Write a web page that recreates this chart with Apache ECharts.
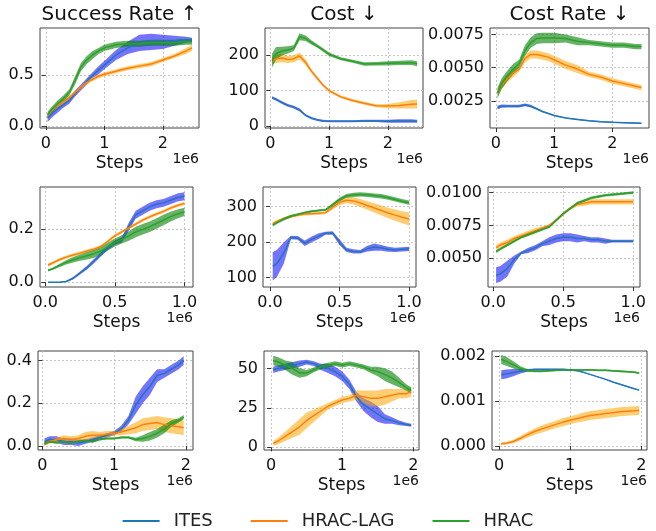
<!DOCTYPE html>
<html>
<head>
<meta charset="utf-8">
<script src="https://cdn.jsdelivr.net/npm/echarts@6/dist/echarts.min.js"></script>
<style>
  body { margin: 0; background: #fff; }
  #main { width: 656px; height: 531px; }
</style>
</head>
<body>
<div id="main"></div>
<script>
// ---- data (x in units of 1e6 steps) ----
const ALGOS = ['ITES', 'HRAC-LAG', 'HRAC'];
const TITLES = ['Success Rate \u2191', 'Cost \u2193', 'Cost Rate \u2193'];

const xRow1 = [0.03, 0.1, 0.2, 0.3, 0.4, 0.5, 0.6, 0.7, 0.8, 0.9, 1.0, 1.2, 1.4, 1.6, 1.8, 2.0, 2.2, 2.4, 2.5];
const xRow2 = [0.02, 0.05, 0.1, 0.15, 0.2, 0.25, 0.3, 0.35, 0.4, 0.45, 0.5, 0.55, 0.6, 0.65, 0.7, 0.75, 0.8, 0.85, 0.9, 0.95, 1.0];
const xRow3 = [0.03, 0.1, 0.2, 0.3, 0.4, 0.5, 0.6, 0.7, 0.8, 0.9, 1.0, 1.1, 1.2, 1.3, 1.4, 1.5, 1.6, 1.7, 1.8, 1.9, 1.97];

// row 1
const srItes = [0.08, 0.12, 0.17, 0.21, 0.25, 0.32, 0.38, 0.44, 0.50, 0.55, 0.60, 0.70, 0.77, 0.82, 0.83, 0.83, 0.84, 0.85, 0.85];
const srItesSd = [0.04, 0.04, 0.04, 0.03, 0.03, 0.03, 0.03, 0.03, 0.03, 0.04, 0.04, 0.05, 0.06, 0.08, 0.08, 0.07, 0.05, 0.03, 0.02];
const srLag = [0.10, 0.15, 0.20, 0.24, 0.28, 0.33, 0.38, 0.43, 0.46, 0.49, 0.51, 0.54, 0.57, 0.59, 0.61, 0.65, 0.69, 0.74, 0.77];
const srLagSd = [0.02, 0.02, 0.02, 0.02, 0.02, 0.02, 0.02, 0.02, 0.02, 0.02, 0.02, 0.02, 0.02, 0.02, 0.02, 0.02, 0.02, 0.03, 0.03];
const srHrac = [0.11, 0.16, 0.22, 0.27, 0.33, 0.45, 0.58, 0.65, 0.70, 0.74, 0.77, 0.80, 0.81, 0.81, 0.82, 0.82, 0.82, 0.83, 0.83];
const srHracSd = [0.03, 0.03, 0.03, 0.03, 0.03, 0.04, 0.04, 0.04, 0.04, 0.03, 0.03, 0.03, 0.03, 0.03, 0.03, 0.03, 0.03, 0.03, 0.03];

const cItes = [80, 75, 66, 58, 53, 45, 30, 22, 17, 14, 13, 13, 13, 14, 14, 13, 14, 14, 13];
const cItesSd = [4, 4, 4, 4, 4, 4, 3, 3, 3, 3, 3, 3, 3, 3, 3, 4, 5, 5, 4];
const cLag = [185, 190, 192, 188, 190, 198, 180, 155, 135, 115, 100, 82, 72, 64, 57, 56, 58, 61, 62];
const cLagSd = [10, 12, 12, 10, 10, 10, 8, 6, 5, 4, 4, 4, 4, 4, 4, 6, 9, 12, 13];
const cHrac = [185, 205, 212, 215, 220, 252, 248, 236, 226, 215, 203, 190, 183, 175, 176, 177, 178, 179, 176];
const cHracSd = [20, 18, 12, 10, 8, 10, 8, 6, 5, 5, 5, 4, 4, 5, 5, 6, 6, 7, 7];

const crItes = [0.0020, 0.0021, 0.0021, 0.0021, 0.0021, 0.0022, 0.0021, 0.0019, 0.0017, 0.00155, 0.0014, 0.0012, 0.0011, 0.0010, 0.00093, 0.00088, 0.00085, 0.00082, 0.0008];
const crItesSd = [0.00015, 0.00012, 0.0001, 0.0001, 0.0001, 0.0001, 0.0001, 0.00008, 0.00006, 0.00005, 0.00005, 0.00004, 0.00004, 0.00004, 0.00004, 0.00004, 0.00004, 0.00004, 0.00004];
const crLag = [0.0031, 0.0037, 0.0042, 0.0046, 0.0049, 0.0057, 0.0060, 0.0060, 0.0059, 0.0058, 0.0056, 0.0052, 0.0049, 0.0045, 0.0043, 0.0040, 0.0038, 0.0036, 0.0035];
const crLagSd = [0.0003, 0.0003, 0.0003, 0.0003, 0.0002, 0.0003, 0.0003, 0.0003, 0.0003, 0.0003, 0.0003, 0.0003, 0.0003, 0.0002, 0.0002, 0.0002, 0.0002, 0.0002, 0.0002];
const crHrac = [0.0031, 0.0038, 0.0044, 0.0049, 0.0053, 0.0063, 0.0069, 0.0072, 0.00725, 0.00725, 0.00725, 0.0072, 0.0070, 0.0069, 0.0068, 0.0067, 0.0067, 0.0066, 0.0066];
const crHracSd = [0.0004, 0.0004, 0.0004, 0.0004, 0.0003, 0.0004, 0.0004, 0.0004, 0.0004, 0.0004, 0.0004, 0.0003, 0.0003, 0.0002, 0.0002, 0.0002, 0.0002, 0.0002, 0.0002];

// row 2
const sr2Ites = [0, 0, 0, 0.003, 0.015, 0.035, 0.055, 0.08, 0.105, 0.13, 0.15, 0.16, 0.21, 0.255, 0.27, 0.285, 0.295, 0.30, 0.31, 0.32, 0.325];
const sr2ItesSd = [0.001, 0.001, 0.001, 0.002, 0.005, 0.006, 0.007, 0.008, 0.008, 0.008, 0.008, 0.01, 0.015, 0.015, 0.015, 0.015, 0.015, 0.015, 0.015, 0.015, 0.015];
const sr2Lag = [0.065, 0.072, 0.085, 0.095, 0.103, 0.11, 0.118, 0.125, 0.135, 0.155, 0.175, 0.19, 0.205, 0.22, 0.235, 0.247, 0.258, 0.268, 0.28, 0.29, 0.298];
const sr2LagSd = [0.006, 0.006, 0.006, 0.006, 0.006, 0.006, 0.006, 0.006, 0.006, 0.006, 0.006, 0.006, 0.006, 0.006, 0.006, 0.006, 0.006, 0.006, 0.006, 0.006, 0.006];
const sr2Hrac = [0.045, 0.05, 0.063, 0.075, 0.085, 0.093, 0.1, 0.108, 0.118, 0.135, 0.15, 0.162, 0.175, 0.19, 0.2, 0.21, 0.222, 0.235, 0.248, 0.258, 0.266];
const sr2HracSd = [0.004, 0.004, 0.006, 0.008, 0.01, 0.012, 0.014, 0.015, 0.015, 0.015, 0.015, 0.016, 0.018, 0.02, 0.02, 0.02, 0.02, 0.02, 0.018, 0.017, 0.016];

const c2Ites = [132, 140, 170, 213, 212, 197, 208, 217, 225, 226, 200, 178, 174, 173, 182, 186, 184, 180, 178, 180, 181];
const c2ItesSd = [40, 38, 30, 5, 5, 8, 8, 8, 4, 5, 8, 6, 6, 5, 8, 10, 8, 7, 6, 6, 6];
const c2Lag = [252, 258, 266, 272, 276, 279, 280, 281, 283, 298, 312, 318, 316, 310, 303, 296, 289, 282, 276, 270, 265];
const c2LagSd = [4, 4, 4, 4, 4, 4, 4, 4, 4, 6, 8, 9, 10, 11, 12, 13, 14, 15, 16, 17, 18];
const c2Hrac = [248, 255, 265, 273, 278, 283, 287, 289, 291, 305, 320, 330, 333, 334, 333, 331, 329, 325, 320, 315, 311];
const c2HracSd = [4, 4, 4, 4, 3, 3, 3, 3, 3, 4, 5, 5, 6, 6, 6, 6, 6, 6, 6, 6, 6];

const cr2Ites = [0.0037, 0.0038, 0.0042, 0.0049, 0.0054, 0.0056, 0.0058, 0.0061, 0.0063, 0.0065, 0.0066, 0.0066, 0.0065, 0.0065, 0.0064, 0.0064, 0.0063, 0.0063, 0.0063, 0.0063, 0.0063];
const cr2ItesSd = [0.0006, 0.0006, 0.0006, 0.0003, 0.0001, 0.0002, 0.0002, 0.0002, 0.0003, 0.0003, 0.0003, 0.0003, 0.0003, 0.0002, 0.0002, 0.0002, 0.0002, 0.0001, 0.0001, 0.0001, 0.0001];
const cr2Lag = [0.0058, 0.0060, 0.0062, 0.0065, 0.0067, 0.0069, 0.0071, 0.0073, 0.0075, 0.0079, 0.0084, 0.0088, 0.0091, 0.0092, 0.0093, 0.0093, 0.0093, 0.0093, 0.0093, 0.0093, 0.0093];
const cr2LagSd = [0.0002, 0.0002, 0.0002, 0.0002, 0.0002, 0.0002, 0.0002, 0.0001, 0.0001, 0.0001, 0.0001, 0.0001, 0.00015, 0.0002, 0.0002, 0.0002, 0.0002, 0.0002, 0.0002, 0.0002, 0.0002];
const cr2Hrac = [0.0055, 0.0057, 0.0060, 0.0063, 0.0066, 0.0068, 0.0070, 0.0072, 0.0074, 0.0079, 0.0084, 0.0088, 0.0092, 0.0094, 0.0096, 0.0097, 0.0098, 0.00985, 0.0099, 0.00995, 0.0100];
const cr2HracSd = [0.0001, 0.0001, 0.0001, 0.0001, 0.0001, 0.0001, 0.0001, 0.0001, 0.0001, 0.0001, 0.0001, 0.0001, 0.0001, 0.0001, 0.0001, 0.0001, 0.0001, 0.0001, 0.0001, 0.0001, 0.0001];

// row 3
const sr3Ites = [0.02, 0.03, 0.03, 0.02, 0.02, 0.015, 0.02, 0.03, 0.04, 0.05, 0.06, 0.08, 0.12, 0.19, 0.24, 0.28, 0.33, 0.34, 0.36, 0.38, 0.40];
const sr3ItesSd = [0.015, 0.015, 0.015, 0.015, 0.015, 0.015, 0.01, 0.01, 0.01, 0.01, 0.01, 0.015, 0.02, 0.04, 0.04, 0.04, 0.03, 0.02, 0.02, 0.02, 0.02];
const sr3Lag = [0.01, 0.02, 0.03, 0.035, 0.03, 0.035, 0.045, 0.05, 0.05, 0.055, 0.06, 0.065, 0.075, 0.085, 0.10, 0.105, 0.11, 0.10, 0.095, 0.09, 0.085];
const sr3LagSd = [0.01, 0.01, 0.01, 0.015, 0.015, 0.015, 0.02, 0.02, 0.015, 0.015, 0.01, 0.015, 0.02, 0.025, 0.03, 0.03, 0.03, 0.035, 0.035, 0.035, 0.035];
const sr3Hrac = [0.01, 0.02, 0.015, 0.02, 0.015, 0.02, 0.025, 0.02, 0.03, 0.035, 0.035, 0.04, 0.04, 0.03, 0.035, 0.045, 0.06, 0.08, 0.105, 0.12, 0.135];
const sr3HracSd = [0.005, 0.005, 0.005, 0.005, 0.005, 0.005, 0.005, 0.005, 0.005, 0.005, 0.005, 0.005, 0.005, 0.008, 0.015, 0.02, 0.02, 0.02, 0.015, 0.01, 0.01];

const c3Ites = [49, 50, 51, 52, 53, 54, 53, 51, 50, 48, 45, 40, 32, 27, 24, 21, 18, 17, 15.5, 14.5, 14];
const c3ItesSd = [2, 2, 2, 2, 2, 1.5, 1.5, 2, 3, 3, 3, 3, 3, 4, 5, 5, 3, 2, 1.5, 1, 1];
const c3Lag = [2.5, 4, 7, 10, 13, 17, 20, 23, 26, 28, 30, 31, 33, 32, 31, 31, 32, 33, 34, 34, 35];
const c3LagSd = [1.5, 2, 3, 4, 5, 5, 4, 3, 2, 2, 2, 2, 3, 4, 5, 5, 5, 4, 3, 3, 3];
const c3Hrac = [55, 54, 52, 50, 47, 47, 49, 51, 52, 53, 52, 53, 52, 51, 49, 48, 46, 44, 41, 38, 36];
const c3HracSd = [3, 3, 3, 4, 3, 2, 1.5, 1.5, 1.5, 1.5, 1.5, 1.5, 1.5, 1.5, 2, 3, 4, 4, 3, 2, 2];

const cr3Ites = [0.00158, 0.0016, 0.00163, 0.00166, 0.00168, 0.0017, 0.0017, 0.0017, 0.0017, 0.0017, 0.00169, 0.00167, 0.00163, 0.00158, 0.00153, 0.00148, 0.00142, 0.00137, 0.00132, 0.00127, 0.00124];
const cr3ItesSd = [0.0001, 0.0001, 0.00008, 0.00005, 0.00003, 0.00002, 0.00002, 0.00002, 0.00002, 0.00002, 0.00002, 0.00001, 0.00001, 0.00001, 0.00001, 0.00001, 0.00001, 0.00001, 0.00001, 0.00001, 0.00001];
const cr3Lag = [0.00005, 0.00006, 0.0001, 0.00017, 0.00025, 0.00032, 0.00038, 0.00043, 0.00048, 0.00053, 0.00057, 0.00061, 0.00065, 0.00068, 0.0007, 0.00072, 0.00074, 0.00076, 0.00077, 0.00078, 0.00079];
const cr3LagSd = [0.00003, 0.00003, 0.00004, 0.00005, 0.00006, 0.00007, 0.00008, 0.00008, 0.00008, 0.00009, 0.00009, 0.00009, 0.0001, 0.0001, 0.0001, 0.0001, 0.0001, 0.0001, 0.0001, 0.0001, 0.0001];
const cr3Hrac = [0.00192, 0.00188, 0.0018, 0.00172, 0.00168, 0.00166, 0.00166, 0.00167, 0.00168, 0.00169, 0.00169, 0.00169, 0.00169, 0.00169, 0.00168, 0.00168, 0.00167, 0.00166, 0.00165, 0.00164, 0.00162];
const cr3HracSd = [0.0001, 0.0001, 0.00008, 0.00005, 0.00003, 0.00002, 0.00002, 0.00002, 0.00002, 0.00002, 0.00002, 0.00002, 0.00002, 0.00002, 0.00002, 0.00002, 0.00002, 0.00002, 0.00002, 0.00002, 0.00002];

// ---- layout ----
const LINE_COLORS = ['#1f77b4', '#ff7f0e', '#2ca02c'];
const BAND_COLORS = ['rgba(0,0,255,0.55)', 'rgba(255,165,0,0.55)', 'rgba(0,128,0,0.6)'];
const FONT = 'DejaVu Sans';

const panels = [
  { x: xRow1, xr: [-0.1, 2.62], xt: [0, 1, 2], xd: 0, yr: [-0.02, 0.966], yt: [0, 0.5], yd: 1, rect: [40, 28, 159, 100],
    lines: [[srItes, srItesSd], [srLag, srLagSd], [srHrac, srHracSd]] },
  { x: xRow1, xr: [-0.09, 2.6], xt: [0, 1, 2], xd: 0, yr: [-6, 277], yt: [0, 100, 200], yd: 0, rect: [265, 28, 158, 100],
    lines: [[cItes, cItesSd], [cLag, cLagSd], [cHrac, cHracSd]] },
  { x: xRow1, xr: [-0.1, 2.63], xt: [0, 1, 2], xd: 0, yr: [0.00045, 0.0080], yt: [0.0025, 0.005, 0.0075], yd: 4, rect: [490, 28, 159, 100],
    lines: [[crItes, crItesSd], [crLag, crLagSd], [crHrac, crHracSd]] },
  { x: xRow2, xr: [-0.038, 1.062], xt: [0, 0.5, 1], xd: 1, yr: [-0.018, 0.36], yt: [0, 0.2], yd: 1, rect: [40, 187, 153, 100],
    lines: [[sr2Ites, sr2ItesSd], [sr2Lag, sr2LagSd], [sr2Hrac, sr2HracSd]] },
  { x: xRow2, xr: [-0.05, 1.05], xt: [0, 0.5, 1], xd: 1, yr: [74, 355], yt: [100, 200, 300], yd: 0, rect: [263, 187, 153, 100],
    lines: [[c2Ites, c2ItesSd], [c2Lag, c2LagSd], [c2Hrac, c2HracSd]] },
  { x: xRow2, xr: [-0.038, 1.048], xt: [0, 0.5, 1], xd: 1, yr: [0.0028, 0.01043], yt: [0.005, 0.0075, 0.01], yd: 4, rect: [488, 187, 152, 100],
    lines: [[cr2Ites, cr2ItesSd], [cr2Lag, cr2LagSd], [cr2Hrac, cr2HracSd]] },
  { x: xRow3, xr: [-0.06, 2.1], xt: [0, 1, 2], xd: 0, yr: [-0.019, 0.445], yt: [0, 0.2, 0.4], yd: 1, rect: [38, 351, 155, 99],
    lines: [[sr3Ites, sr3ItesSd], [sr3Lag, sr3LagSd], [sr3Hrac, sr3HracSd]] },
  { x: xRow3, xr: [-0.1, 2.08], xt: [0, 1, 2], xd: 0, yr: [-1.7, 61], yt: [0, 25, 50], yd: 0, rect: [264, 351, 155, 99],
    lines: [[c3Ites, c3ItesSd], [c3Lag, c3LagSd], [c3Hrac, c3HracSd]] },
  { x: xRow3, xr: [-0.1, 2.08], xt: [0, 1, 2], xd: 0, yr: [-0.00009, 0.00211], yt: [0, 0.001, 0.002], yd: 3, rect: [492, 351, 155, 99],
    lines: [[cr3Ites, cr3ItesSd], [cr3Lag, cr3LagSd], [cr3Hrac, cr3HracSd]] }
];

const chart = echarts.init(document.getElementById('main'), null, { renderer: 'canvas' });

const grids = [], xAxes = [], yAxes = [], series = [], graphics = [];
const splitStyle = { color: '#b8b8b8', width: 0.8, type: [2, 2] };

// band polygon between mean-sd and mean+sd, drawn through the axis scales
function bandRenderer(color, count) {
  return function (params, api) {
    if (params.dataIndex !== 0) return null;
    const upper = [], lower = [];
    for (let j = 0; j < count; j++) {
      const xv = api.value(0, j);
      upper.push(api.coord([xv, api.value(2, j)]));
      lower.push(api.coord([xv, api.value(1, j)]));
    }
    return {
      type: 'polygon',
      shape: { points: upper.concat(lower.reverse()) },
      style: { fill: color, stroke: null },
      silent: true
    };
  };
}

panels.forEach(function (p, i) {
  const r = p.rect;
  grids.push({ left: r[0], top: r[1], width: r[2], height: r[3], show: true,
    borderColor: '#444', borderWidth: 1, backgroundColor: 'transparent' });
  xAxes.push({
    type: 'value', gridIndex: i, min: p.xr[0], max: p.xr[1],
    name: 'Steps', nameLocation: 'middle', nameGap: 27,
    nameTextStyle: { fontSize: 17, fontFamily: FONT, color: '#111' },
    axisLine: { show: false },
    axisTick: { show: true, length: 4, customValues: p.xt, lineStyle: { color: '#333' } },
    axisLabel: { customValues: p.xt, fontSize: 16, fontFamily: FONT, color: '#111', margin: 8,
      formatter: function (v) { return v.toFixed(p.xd); } },
    splitLine: { show: true, lineStyle: splitStyle }
  });
  yAxes.push({
    type: 'value', gridIndex: i, min: p.yr[0], max: p.yr[1],
    axisLine: { show: false },
    axisTick: { show: true, length: 4, customValues: p.yt, lineStyle: { color: '#333' } },
    axisLabel: { customValues: p.yt, fontSize: 16, fontFamily: FONT, color: '#111', margin: 6,
      formatter: function (v) { return v.toFixed(p.yd); } },
    splitLine: { show: true, lineStyle: splitStyle }
  });

  p.lines.forEach(function (pair, k) {
    const mean = pair[0], sd = pair[1];
    series.push({
      type: 'custom', xAxisIndex: i, yAxisIndex: i, silent: true, z: 2,
      data: p.x.map(function (x, j) { return [x, mean[j] - sd[j], mean[j] + sd[j]]; }),
      encode: { x: 0, y: [1, 2] },
      renderItem: bandRenderer(BAND_COLORS[k], p.x.length),
      clip: true
    });
    series.push({
      name: ALGOS[k], type: 'line', xAxisIndex: i, yAxisIndex: i,
      data: p.x.map(function (x, j) { return [x, mean[j]]; }),
      symbol: 'none', lineStyle: { color: LINE_COLORS[k], width: 1.5 },
      itemStyle: { color: LINE_COLORS[k] }, z: 3
    });
  });

  // offset text "1e6"
  graphics.push({ type: 'text', x: r[0] + r[2], y: r[1] + r[3] + 31,
    style: { text: '1e6', align: 'right', verticalAlign: 'middle', fontSize: 14, fontFamily: FONT, fill: '#111' } });
  if (i < 3) {
    graphics.push({ type: 'text', x: r[0] + r[2] / 2, y: 15,
      style: { text: TITLES[i], align: 'center', verticalAlign: 'middle', fontSize: 20, fontFamily: FONT, fill: '#111' } });
  }
});

chart.setOption({
  animation: false,
  backgroundColor: '#fff',
  grid: grids,
  xAxis: xAxes,
  yAxis: yAxes,
  series: series,
  graphic: graphics,
  legend: {
    data: ALGOS, top: 507, left: 'center', icon: 'rect', itemWidth: 37, itemHeight: 2, itemGap: 38,
    textStyle: { fontSize: 18, fontFamily: FONT, color: '#222', padding: [0, 0, 0, 9] }
  }
});
</script>
</body>
</html>
